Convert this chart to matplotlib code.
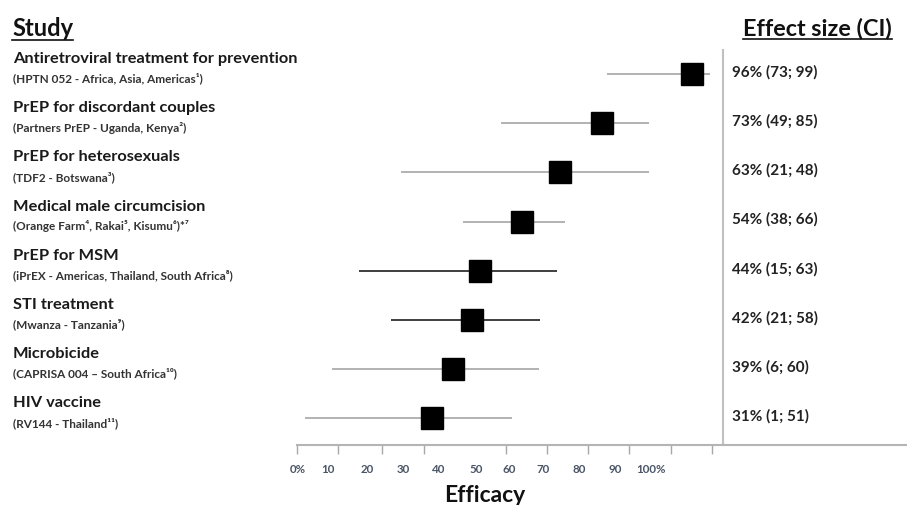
import matplotlib
matplotlib.use("Agg")
import matplotlib.pyplot as plt
from matplotlib.lines import Line2D

plt.rcParams['font.family'] = ['Lato', 'DejaVu Sans']

# ---------------- data ----------------
studies = [
    "Antiretroviral treatment for prevention",
    "PrEP for discordant couples",
    "PrEP for heterosexuals",
    "Medical male circumcision",
    "PrEP for MSM",
    "STI treatment",
    "Microbicide",
    "HIV vaccine",
]
sources = [
    "(HPTN 052 - Africa, Asia, Americas\u00b9)",
    "(Partners PrEP - Uganda, Kenya\u00b2)",
    "(TDF2 - Botswana\u00b3)",
    "(Orange Farm\u2074, Rakai\u2075, Kisumu\u2076)*\u2077",
    "(iPrEX - Americas, Thailand, South Africa\u2078)",
    "(Mwanza - Tanzania\u2079)",
    "(CAPRISA 004 \u2013 South Africa\u00b9\u2070)",
    "(RV144 - Thailand\u00b9\u00b9)",
]
effect_labels = [
    "96% (73; 99)", "73% (49; 85)", "63% (21; 48)", "54% (38; 66)",
    "44% (15; 63)", "42% (21; 58)", "39% (6; 60)", "31% (1; 51)",
]
# positions of squares and whisker ends as drawn (in the axis' % units)
point = [111.6, 86.1, 74.2, 63.5, 51.6, 49.3, 43.9, 38.0]
ci_low = [87.5, 57.5, 29.2, 46.7, 17.3, 26.3, 9.6, 2.0]
ci_high = [116.7, 99.4, 99.4, 75.6, 73.4, 68.6, 68.3, 60.6]
dark_line = [False, False, False, False, True, True, False, False]

tick_label_text = ["0%", "10", "20", "30", "40", "50", "60", "70", "80", "90", "100%"]
tick_label_pos = [0, 8.5, 19.5, 29.7, 39.7, 50.4, 59.8, 69.4, 79.6, 89.8, 100]
tick_mark_pos = [-0.3, 11.3, 23.8, 35.7, 58.9, 70.5, 82.2, 93.8, 105.7, 117.3]

# ---------------- figure ----------------
W, H = 907, 506
fig = plt.figure(figsize=(W / 100, H / 100), dpi=100)

def fx(px):
    return px / W

def fy(py):
    return 1 - py / H

ax_left, ax_right, ax_top, ax_bot = 297, 907, 50, 446
ax = fig.add_axes([fx(ax_left), fy(ax_bot), (ax_right - ax_left) / W, (ax_bot - ax_top) / H])
ppu = 3.53  # pixels per unit
u0 = (ax_left - 298) / ppu
u1 = (ax_right - 298) / ppu
ax.set_xlim(u0, u1)
row0, rowstep = 75, 49.2
ax.set_ylim((ax_bot - row0) / rowstep, (ax_top - row0) / rowstep)

for s in ['top', 'right', 'left']:
    ax.spines[s].set_visible(False)
ax.spines['bottom'].set_color('#b4b4b4')
ax.spines['bottom'].set_linewidth(1.5)
ax.set_yticks([])

ax.set_xticks(tick_label_pos)
ax.set_xticklabels(tick_label_text)
ax.tick_params(axis='x', which='major', length=0, pad=13, labelsize=8.3,
               labelcolor='#4a5566')
for lab in ax.get_xticklabels():
    lab.set_fontweight('bold')
ax.set_xticks(tick_mark_pos, minor=True)
ax.tick_params(axis='x', which='minor', length=6.5, width=1.0, color='#a8a8a8')

# vertical separator
vline_u = (723 - 298) / ppu
ax.axvline(vline_u, color='#c0c0c0', lw=1.5, zorder=1)

for i in range(len(studies)):
    col = '#1e1e1e' if dark_line[i] else '#a6a6a6'
    ax.plot([ci_low[i], ci_high[i]], [i, i], color=col, lw=1.2, zorder=2,
            solid_capstyle='butt')
    ax.plot(point[i], i, marker='s', ms=15.5, color='black', zorder=3)
    ax.text((732 - 298) / ppu, i - 0.06, effect_labels[i], fontsize=11,
            fontweight='bold', color='#222222', va='center', ha='left')

# left labels
for i in range(len(studies)):
    ycen = row0 + rowstep * i
    fig.text(fx(13), fy(ycen - 16), studies[i], fontsize=11.8, fontweight='bold',
             color='#1a1a1a', va='center', ha='left')
    fig.text(fx(13), fy(ycen + 3.5), sources[i], fontsize=8.5, fontweight='bold',
             color='#333333', va='center', ha='left')

# headers with underline
def header(x, ybase, txt, size):
    t = fig.text(fx(x), fy(ybase), txt, fontsize=size, fontweight='bold',
                 color='#111111', va='baseline', ha='left')
    fig.canvas.draw()
    bb = t.get_window_extent()
    fig.add_artist(Line2D([bb.x0 / W, bb.x1 / W], [fy(ybase + 4.5)] * 2,
                          color='#111111', lw=1.2))
    return t

header(12, 36, "Study", 17)
header(743, 35, "Effect size (CI)", 16.8)

fig.text(fx(485), fy(496), "Efficacy", fontsize=16.5, fontweight='bold',
         color='#111111', ha='center', va='center')

fig.savefig("out.png", dpi=100)
